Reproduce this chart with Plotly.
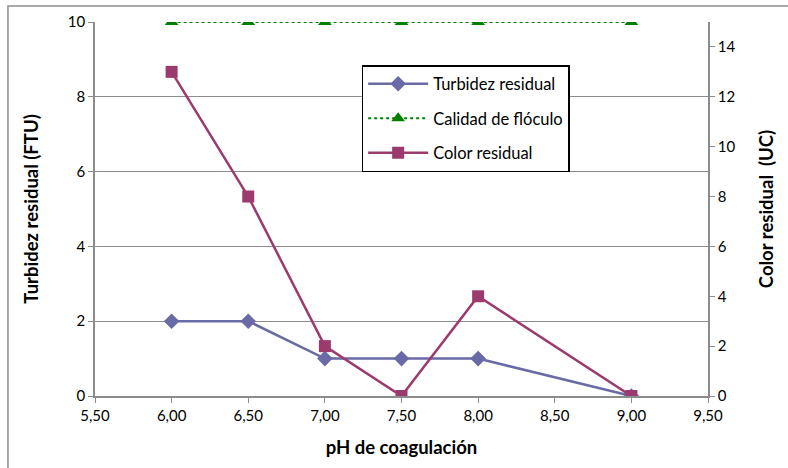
import plotly.graph_objects as go

ph = [6.0, 6.5, 7.0, 7.5, 8.0, 9.0]
turbidez = [2, 2, 1, 1, 1, 0]
calidad = [10, 10, 10, 10, 10, 10]
color_res = [13, 8, 2, 0, 4, 0]

x_ticks = [5.5, 6.0, 6.5, 7.0, 7.5, 8.0, 8.5, 9.0, 9.5]
x_labels = [f"{v:.2f}".replace(".", ",") for v in x_ticks]

FONT = "Lato, Open Sans, sans-serif"
AXIS_GREY = "#8c8c8c"

fig = go.Figure()
fig.add_trace(go.Scatter(
    x=ph, y=turbidez, name="Turbidez residual", mode="lines+markers",
    legendgroup="a",
    line=dict(color="#6A6AA6", width=2.5),
    marker=dict(symbol="diamond", size=12, color="#6A6AA6"),
))
fig.add_trace(go.Scatter(
    x=ph, y=calidad, name="Calidad de flóculo", mode="lines+markers",
    legendgroup="b",
    line=dict(color="#008000", width=2, dash="dot"),
    marker=dict(symbol="triangle-up", size=12, color="#008000"),
))
fig.add_trace(go.Scatter(
    x=ph, y=color_res, name="Color residual", mode="lines+markers", yaxis="y2",
    legendgroup="c",
    line=dict(color="#9B3A6C", width=2.5),
    marker=dict(symbol="square", size=12, color="#9B3A6C"),
))

fig.update_layout(
    width=788, height=468,
    margin=dict(l=95, r=80, t=22, b=72),
    plot_bgcolor="white", paper_bgcolor="white",
    font=dict(family=FONT, size=15, color="black"),
    showlegend=True,
    legend=dict(
        x=0.435, y=0.885, xanchor="left", yanchor="top",
        bgcolor="white", bordercolor="black", borderwidth=1.5,
        font=dict(size=16.5), tracegroupgap=10, itemwidth=60,
    ),
    xaxis=dict(
        range=[5.5, 9.5], tickvals=x_ticks, ticktext=x_labels,
        showgrid=False, showline=True, linecolor=AXIS_GREY, linewidth=1.5,
        ticks="outside", ticklen=5, tickcolor=AXIS_GREY, zeroline=False,
        title=dict(text="<b>pH de coagulación</b>", font=dict(size=18.5), standoff=18),
    ),
    yaxis=dict(
        range=[0, 10], tickvals=[0, 2, 4, 6, 8, 10],
        showgrid=True, gridcolor=AXIS_GREY, gridwidth=1.2,
        showline=True, linecolor=AXIS_GREY, linewidth=1.5,
        ticks="outside", ticklen=5, tickcolor=AXIS_GREY, zeroline=False,
        title=dict(text="<b>Turbidez residual (FTU)</b>", font=dict(size=18.5), standoff=24),
    ),
    yaxis2=dict(
        range=[0, 15], tickvals=[0, 2, 4, 6, 8, 10, 12, 14],
        overlaying="y", side="right", showgrid=False,
        showline=True, linecolor=AXIS_GREY, linewidth=1.5,
        ticks="outside", ticklen=5, tickcolor=AXIS_GREY, zeroline=False,
        title=dict(text="<b>Color residual  (UC)</b>", font=dict(size=18.5), standoff=26),
    ),
)

# chart frame
fig.add_shape(type="rect", xref="paper", yref="paper",
              x0=-0.142, x1=1.2, y0=-0.3, y1=1.043,
              line=dict(color="#8c8c8c", width=1.5), layer="above")

fig.write_html("out.html")
